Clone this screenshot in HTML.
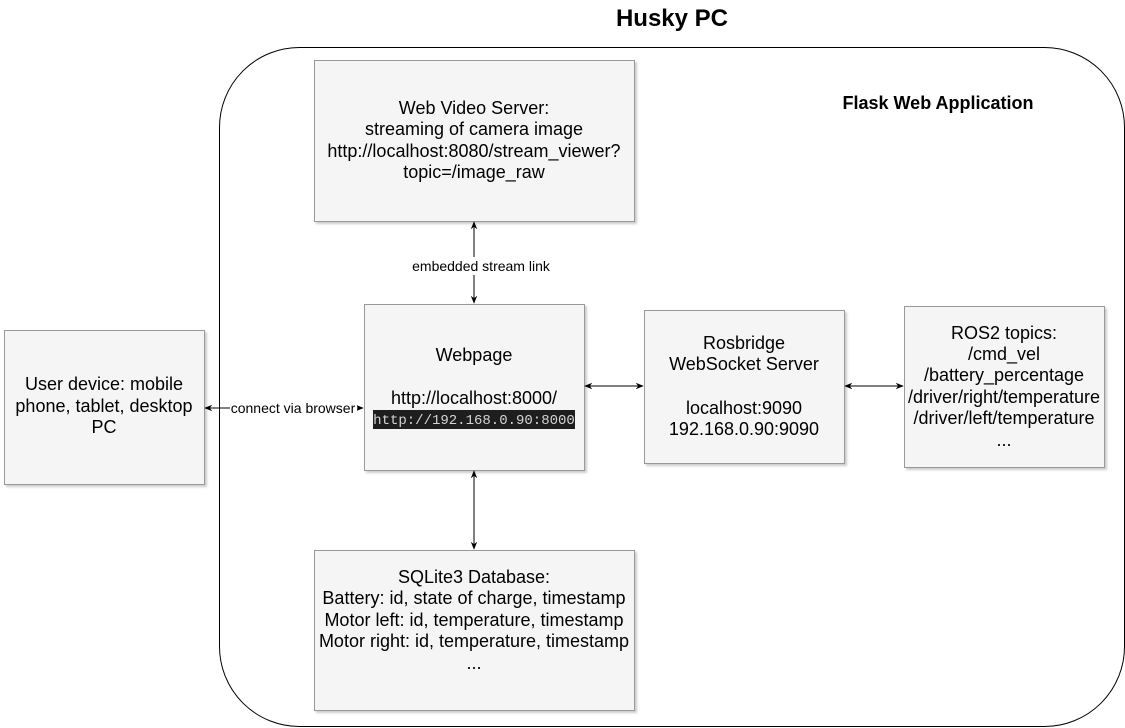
<!DOCTYPE html>
<html><head><style>
body{margin:0;background:#fff;}
svg{display:block;font-family:"Liberation Sans",sans-serif;}
</style></head><body>
<svg width="1125" height="728" viewBox="0 0 1125 728" xmlns="http://www.w3.org/2000/svg">
<defs>
<filter id="sh" x="-5%" y="-5%" width="115%" height="115%"><feDropShadow dx="2" dy="2" stdDeviation="1" flood-color="#000" flood-opacity="0.2"/></filter>
<marker id="a" viewBox="0 0 10 10" refX="9" refY="5" markerWidth="8" markerHeight="8" orient="auto-start-reverse"><path d="M0,1 L10,5 L0,9 L3,5 Z" fill="#000"/></marker>
</defs>
<text x="672" y="26" font-size="24" font-weight="bold" text-anchor="middle">Husky PC</text>
<rect x="219.5" y="47.5" width="905" height="679" rx="80" fill="#fff" stroke="#000"/>
<text x="938" y="109" font-size="18" font-weight="bold" text-anchor="middle">Flask Web Application</text>
<g fill="#f5f5f5" stroke="#999" filter="url(#sh)">
<rect x="314.5" y="60.5" width="320" height="161"/>
<rect x="364.5" y="304.5" width="220" height="166"/>
<rect x="644.5" y="310.5" width="200" height="153"/>
<rect x="904.5" y="306.5" width="200" height="161"/>
<rect x="4.5" y="330.5" width="200" height="154"/>
<rect x="314.5" y="550.5" width="320" height="160"/>
</g>
<g stroke="#000" fill="none" marker-start="url(#a)" marker-end="url(#a)">
<line x1="474" y1="222" x2="474" y2="303"/>
<line x1="474" y1="471" x2="474" y2="549"/>
<line x1="585" y1="386" x2="643" y2="386"/>
<line x1="845" y1="386" x2="903" y2="386"/>
<line x1="205" y1="408" x2="363" y2="408"/>
</g>
<rect x="410" y="257" width="142" height="18" fill="#fff"/>
<text x="481" y="271" font-size="14" text-anchor="middle">embedded stream link</text>
<rect x="230" y="400" width="127" height="16" fill="#fff"/>
<text x="293" y="413" font-size="14" text-anchor="middle">connect via browser</text>
<g font-size="18" text-anchor="middle" fill="#000">
<text x="474" y="114">Web Video Server:</text>
<text x="474" y="135">streaming of camera image</text>
<text x="474" y="157">http://localhost:8080/stream_viewer?</text>
<text x="474" y="178">topic=/image_raw</text>
<text x="474" y="361">Webpage</text>
<text x="474" y="404">http://localhost:8000/</text>
<text x="744" y="349">Rosbridge</text>
<text x="744" y="370">WebSocket Server</text>
<text x="744" y="414">localhost:9090</text>
<text x="744" y="435">192.168.0.90:9090</text>
<text x="1004" y="339">ROS2 topics:</text>
<text x="1004" y="360">/cmd_vel</text>
<text x="1004" y="381">/battery_percentage</text>
<text x="1004" y="403">/driver/right/temperature</text>
<text x="1004" y="424">/driver/left/temperature</text>
<text x="1004" y="446">...</text>
<text x="104" y="390">User device: mobile</text>
<text x="104" y="412">phone, tablet, desktop</text>
<text x="104" y="433">PC</text>
<text x="474" y="583">SQLite3 Database:</text>
<text x="474" y="604">Battery: id, state of charge, timestamp</text>
<text x="474" y="626">Motor left: id, temperature, timestamp</text>
<text x="474" y="647">Motor right: id, temperature, timestamp</text>
<text x="474" y="669">...</text>
</g>
<rect x="373" y="410" width="202" height="19" fill="#1e1e1e"/>
<text x="474" y="424" font-size="14" font-family="Liberation Mono,monospace" text-anchor="middle" fill="#d4d4d4">http://192.168.0.90:8000</text>
</svg>
</body></html>
